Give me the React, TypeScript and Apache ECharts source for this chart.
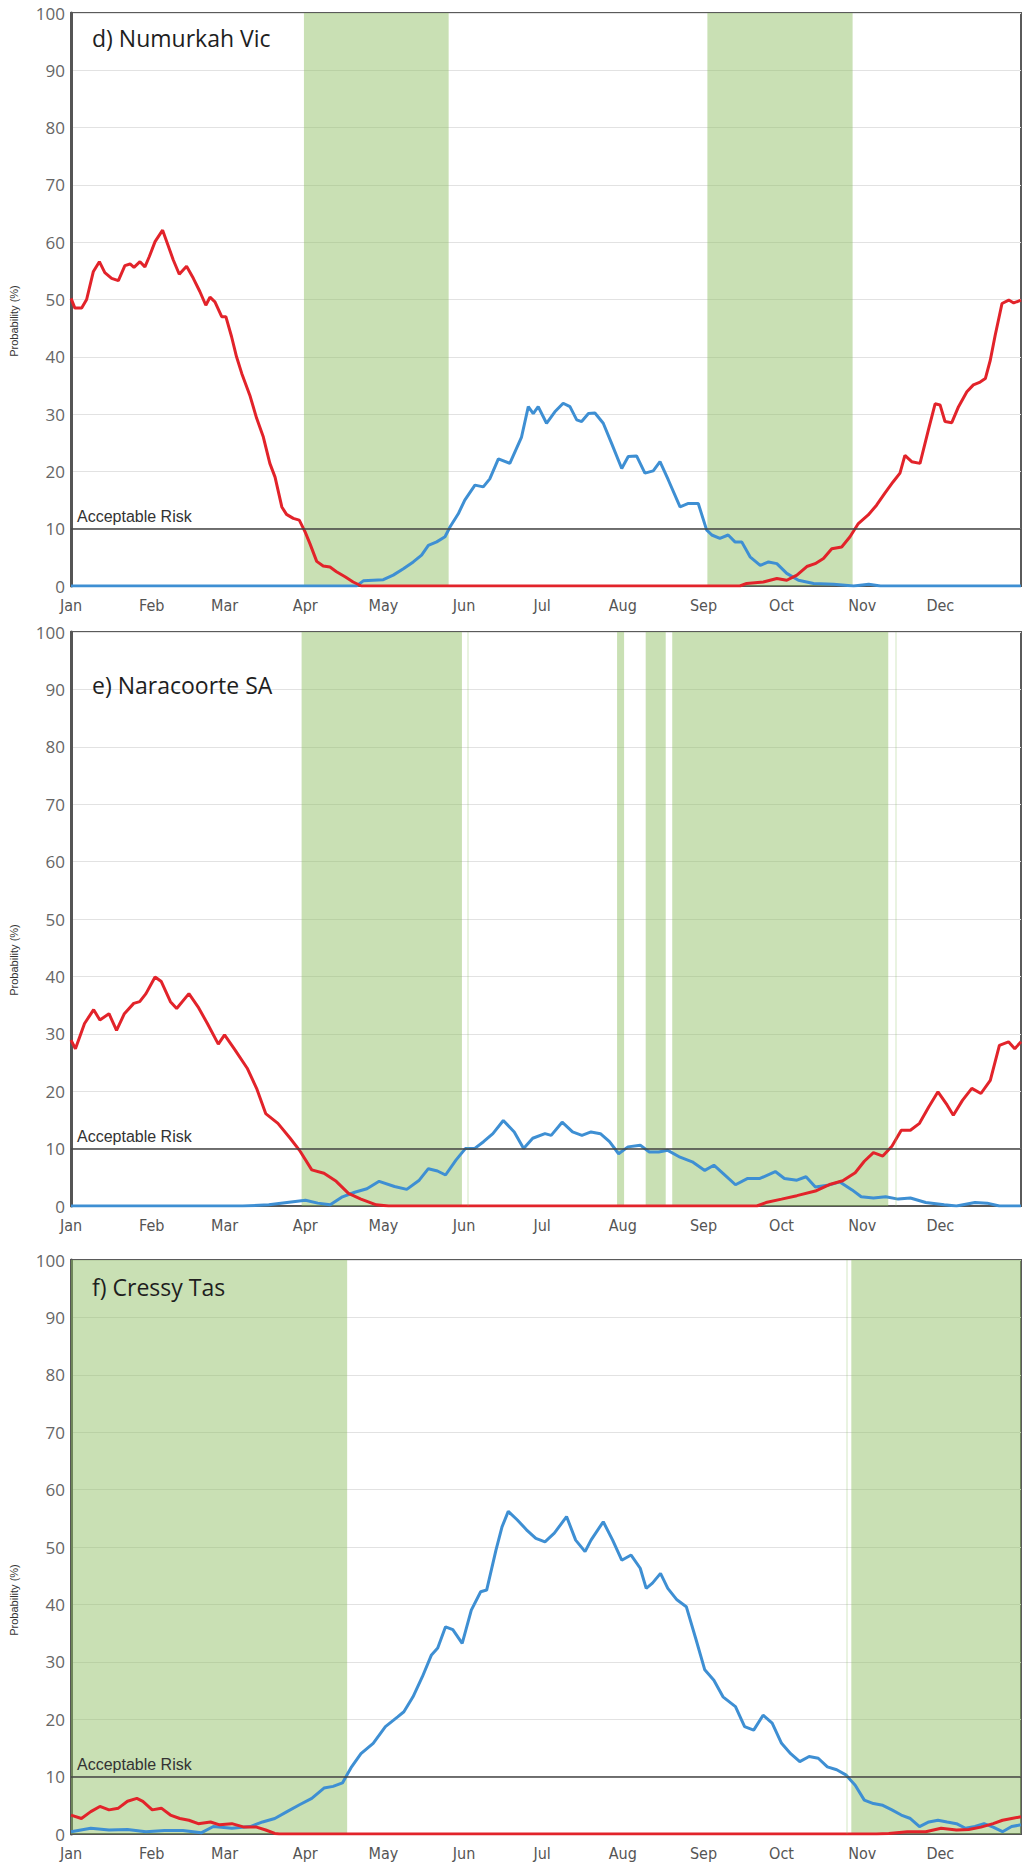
import React, { useEffect, useRef } from "react";
import * as echarts from "echarts";

const monthNames = ["Jan", "Feb", "Mar", "Apr", "May", "Jun", "Jul", "Aug", "Sep", "Oct", "Nov", "Dec"];
const monthStarts = [0, 31, 59, 90, 120, 151, 181, 212, 243, 273, 304, 334];
const panelTitles = ["d) Numurkah Vic", "e) Naracoorte SA", "f) Cressy Tas"];
const riskLevel = 10;
const riskLabel = "Acceptable Risk";
const yName = "Probability (%)";

// [day of year, probability %]
const dRed = [[0,50.2],[1.5,48.5],[4.1,48.5],[6,50],[8.6,54.9],[10.9,56.6],[13,54.7],[15.6,53.7],[18.2,53.3],[20.7,55.9],[22.7,56.2],[24.2,55.6],[26.5,56.6],[28.4,55.7],[30.1,57.5],[32.3,60.1],[35.2,62.1],[37,59.8],[39.3,56.9],[41.6,54.4],[44.4,55.8],[47,53.7],[49.5,51.4],[51.8,49],[53.4,50.4],[55.3,49.6],[57.9,47],[59.5,47],[61.7,43.5],[63.6,40],[65.6,37.1],[68.7,33.3],[71.3,29.3],[73.9,26],[76.4,21.4],[78.4,19],[81,13.8],[82.8,12.5],[85.4,11.8],[87.7,11.5],[89.9,9.5],[91.8,7.4],[94.4,4.3],[96.9,3.5],[99.5,3.3],[102,2.5],[105.3,1.6],[108.4,0.7],[111.6,0],[257,0],[259.6,0.45],[266,0.7],[271.2,1.3],[275,1.0],[278.9,1.9],[282.7,3.4],[285.9,3.9],[289.1,4.8],[292.3,6.5],[296.1,6.8],[299.3,8.6],[302.5,10.9],[306.3,12.4],[309.5,14.1],[312.7,16.2],[315.9,18.2],[318.5,19.7],[320.4,22.8],[323,21.7],[326.2,21.4],[329.4,27.2],[332,31.8],[333.9,31.6],[335.8,28.7],[338.4,28.5],[341,31.3],[344.2,33.9],[346.7,35.1],[349.3,35.6],[351.3,36.2],[353.2,39.4],[355.1,43.8],[357.7,49.3],[360.3,49.9],[362.2,49.4],[365,49.9]];
const dBlue = [[0,0],[109.7,0],[112.3,0.9],[116.1,1],[120,1.1],[123.8,1.9],[127.7,3],[131.5,4.2],[134.7,5.4],[137.3,7.1],[140.5,7.7],[143.7,8.6],[145.6,10.3],[148.8,12.6],[151.3,15],[155.2,17.6],[158.4,17.3],[160.9,18.7],[164.2,22.2],[168.6,21.4],[173.1,26],[175.7,31.3],[177.6,30.1],[179.5,31.3],[182.7,28.4],[185.9,30.4],[189.1,31.9],[191.7,31.3],[194.3,29],[196.2,28.7],[198.8,30.1],[201.3,30.2],[204.5,28.4],[207.7,24.9],[211.6,20.5],[214.1,22.6],[217.3,22.7],[220.5,19.7],[223.7,20.1],[226.3,21.7],[229.5,18.5],[234,13.8],[237.2,14.4],[241,14.4],[244.2,9.8],[246.2,8.9],[249.3,8.3],[252.5,8.9],[255.1,7.7],[257.7,7.7],[260.9,5.1],[264.8,3.6],[268,4.2],[271.2,3.9],[275,2.2],[279.5,1.0],[285.3,0.45],[293,0.3],[300.7,0],[306.5,0.3],[311,0],[365,0]];

const eRed = [[0,28.9],[1.7,27.4],[5.2,31.8],[8.7,34.2],[11.1,32.4],[14.6,33.5],[17.5,30.6],[20.5,33.5],[24.1,35.3],[26.4,35.6],[28.8,37],[32.3,39.9],[34.7,39.1],[38.2,35.6],[40.6,34.4],[45.3,37],[48.8,34.7],[52.4,31.8],[56.6,28.2],[59,29.8],[63,27.2],[67.7,24],[71.3,20.5],[74.8,16.1],[79.5,14.4],[84.2,11.8],[87.8,9.7],[92.5,6.3],[97.2,5.7],[101.9,4.3],[106.6,2.2],[111.4,1.2],[117.3,0.2],[122,0],[263.5,0],[267,0.6],[273,1.2],[278.9,1.8],[286,2.6],[291.8,3.8],[296.5,4.4],[301.3,5.8],[304.8,7.8],[308.3,9.3],[311.9,8.7],[315.4,10.4],[319,13.2],[322.5,13.2],[326,14.4],[329.6,17.3],[333.1,19.9],[336.6,17.6],[339,15.8],[342.5,18.4],[346.1,20.5],[349.6,19.6],[353.2,21.9],[356.7,28],[360.2,28.6],[362.6,27.4],[365,28.6]];
const eBlue = [[0,0],[66,0],[76,0.2],[83,0.6],[90.1,1],[94.8,0.5],[99.6,0.2],[104.3,1.6],[109,2.4],[113.7,3],[118.4,4.3],[124.3,3.4],[129,2.9],[133.8,4.5],[137.3,6.5],[140.8,6.1],[143.9,5.4],[147.9,8],[151.5,10],[155,10],[158.5,11.2],[162.1,12.6],[166.1,14.9],[170.3,12.9],[173.9,10],[177.4,11.8],[182.1,12.6],[184.5,12.3],[188.7,14.6],[192.7,12.9],[196.3,12.3],[199.8,12.9],[203.4,12.6],[206.9,11.2],[210.4,9.1],[214,10.3],[218.7,10.6],[222.2,9.4],[225.8,9.4],[229.3,9.7],[234,8.5],[238.7,7.7],[243.5,6.2],[247,7.1],[250.5,5.7],[255.3,3.7],[260,4.8],[264.7,4.8],[270.6,6],[274.1,4.8],[278.9,4.5],[282.4,5.1],[286,3.3],[290.7,3.6],[295.4,4.2],[300.1,2.8],[303.6,1.6],[308.3,1.4],[313,1.6],[317.8,1.2],[322.5,1.4],[328.4,0.6],[335.5,0.2],[340.2,0],[347.3,0.6],[352,0.5],[356.7,0],[365,0]];

const fRed = [[0,3.3],[4,2.7],[7.6,3.9],[11.1,4.8],[14.6,4.2],[18.2,4.5],[21.7,5.7],[25.3,6.2],[27.6,5.7],[31.2,4.2],[34.7,4.5],[38.2,3.3],[41.8,2.7],[45.3,2.4],[48.9,1.8],[53.6,2.1],[57.1,1.6],[61.8,1.8],[66.5,1.2],[71.3,1.2],[74.8,0.7],[78.3,0.1],[80,0],[309.5,0],[314.2,0.1],[321.3,0.4],[328.4,0.4],[334.3,1],[340.2,0.7],[344.9,0.8],[349.6,1.2],[354.3,1.8],[357.9,2.4],[361.4,2.7],[365,3]];
const fBlue = [[0,0.4],[7.6,1],[14.6,0.7],[21.7,0.8],[28.8,0.4],[35.9,0.6],[43,0.6],[50,0.2],[54.7,1.3],[61.8,1],[68.9,1.3],[73.6,2.1],[78.3,2.7],[83,3.9],[87.8,5.1],[92.5,6.2],[97.2,8],[100.7,8.3],[104.3,8.9],[107.8,11.7],[111.4,14],[116.1,15.8],[120.8,18.7],[125.5,20.4],[127.9,21.3],[131.4,23.9],[135,27.4],[138.5,31.2],[140.9,32.4],[143.9,36.1],[146.7,35.6],[150.3,33.2],[153.8,39],[157.4,42.2],[159.7,42.5],[163.3,49.5],[165.6,53.5],[168,56.2],[171.5,54.7],[175,53],[178.6,51.5],[182.1,50.9],[185.7,52.4],[190.4,55.3],[193.9,51.2],[197.5,49.2],[199.8,51.2],[204.5,54.4],[208.1,51.2],[211.6,47.7],[215.2,48.6],[218.7,46.3],[221,42.8],[223.4,43.7],[226.5,45.4],[229.3,42.8],[232.8,40.8],[236.4,39.6],[240,34.1],[243.5,28.6],[247,26.8],[250.5,23.9],[255.3,22.2],[258.8,18.7],[262.3,18.1],[265.9,20.7],[269.4,19.3],[273,15.8],[276.5,14],[280,12.6],[283.6,13.5],[287.1,13.2],[290.6,11.7],[294.2,11.2],[297.7,10.3],[301.3,8.5],[304.8,5.9],[308.3,5.3],[311.9,5],[315.4,4.2],[319,3.3],[322.5,2.7],[326,1.3],[329.6,2.1],[333.1,2.4],[336.6,2.1],[340.2,1.8],[343.7,1],[347.3,1.3],[350.8,1.8],[354.3,1.2],[357.9,0.4],[361.4,1.3],[365,1.6]];

// green "favourable" periods [startDay, endDay]
const dBands = [[89.5, 145.1], [244.5, 300.3]];
const eBands = [[88.6, 150.2], [209.8, 212.5], [220.8, 228.5], [231, 314]];
const fBands = [[0, 106.1], [299.8, 365]];
const dThin: number[] = [];
const eThin = [152.3, 316.8];
const fThin = [298];

const redSeries = [dRed, eRed, fRed];
const blueSeries = [dBlue, eBlue, fBlue];
const bandSets = [dBands, eBands, fBands];
const thinSets = [dThin, eThin, fThin];

const RED = "#e2232a";
const BLUE = "#3e8fd3";
const GREEN = "rgba(140,190,95,0.47)";

export default function App() {
  const ref = useRef<HTMLDivElement>(null);
  useEffect(() => {
    if (!ref.current) return;
    const chart = echarts.init(ref.current, undefined, { renderer: "svg" });
    const gridPos = [
      { top: 13, height: 573 },
      { top: 632, height: 574 },
      { top: 1260, height: 574 },
    ];
    const titlePos = [38, 685, 1287];
    const namePos = [321, 960, 1600];
    const grid = gridPos.map((g) => ({
      left: 71,
      right: 2,
      top: g.top,
      height: g.height,
      show: true,
      borderColor: "#5a5a5a",
      borderWidth: 2,
      backgroundColor: "#fff",
    }));
    const xAxis = gridPos.map((_, i) => ({
      type: "value",
      gridIndex: i,
      min: 0,
      max: 365,
      axisLine: { show: true, lineStyle: { color: "#555", width: 2 } },
      axisTick: { show: false },
      splitLine: { show: false },
      axisLabel: {
        customValues: monthStarts,
        formatter: (v: number) => monthNames[monthStarts.indexOf(v)] ?? "",
        fontSize: 16,
        color: "#555",
        margin: 11,
        fontFamily: '"Liberation Sans Narrow", "DejaVu Sans Condensed", "Liberation Sans", sans-serif',
      },
    }));
    const yAxis = gridPos.map((_, i) => ({
      type: "value",
      gridIndex: i,
      min: 0,
      max: 100,
      interval: 10,
      axisLine: { show: true, lineStyle: { color: "#555", width: 3 } },
      axisTick: { show: false },
      axisLabel: { fontSize: 17, color: "#666", margin: 6, fontFamily: '"Open Sans", sans-serif' },
      splitLine: { show: true, lineStyle: { color: "#e2e2e2", width: 1 } },
    }));
    const series: any[] = [];
    for (let i = 0; i < 3; i++) {
      series.push({
        type: "line",
        xAxisIndex: i,
        yAxisIndex: i,
        data: [],
        z: 1,
        silent: true,
        markArea: {
          silent: true,
          itemStyle: { color: GREEN },
          data: bandSets[i].map(([a, b]) => [{ xAxis: a }, { xAxis: b }]),
        },
        markLine: {
          silent: true,
          symbol: "none",
          label: { show: false },
          lineStyle: { color: "rgba(140,190,95,0.25)", width: 1.5, type: "solid" },
          data: thinSets[i].map((x) => ({ xAxis: x })),
        },
      });
      series.push({
        type: "line",
        xAxisIndex: i,
        yAxisIndex: i,
        data: [],
        z: 2,
        silent: true,
        markLine: {
          silent: true,
          symbol: "none",
          lineStyle: { color: "#444", width: 1.5, type: "solid" },
          label: {
            show: true,
            position: "insideStartTop",
            formatter: riskLabel,
            fontSize: 16,
            color: "#333",
            distance: [6, 4],
            fontFamily: '"Liberation Sans", Arial, sans-serif',
          },
          data: [{ yAxis: riskLevel }],
        },
      });
      series.push({
        type: "line",
        xAxisIndex: i,
        yAxisIndex: i,
        data: blueSeries[i],
        showSymbol: false,
        z: 3,
        lineStyle: { color: BLUE, width: 3 },
        itemStyle: { color: BLUE },
      });
      series.push({
        type: "line",
        xAxisIndex: i,
        yAxisIndex: i,
        data: redSeries[i],
        showSymbol: false,
        z: 4,
        lineStyle: { color: RED, width: 3 },
        itemStyle: { color: RED },
      });
    }
    const graphic: any[] = [];
    for (let i = 0; i < 3; i++) {
      graphic.push({
        type: "text",
        x: 92,
        y: titlePos[i],
        z: 10,
        style: {
          text: panelTitles[i],
          fontSize: 23,
          fontFamily: '"Open Sans", sans-serif',
          fill: "#1e1e1e",
          verticalAlign: "middle",
        },
      });
      graphic.push({
        type: "text",
        x: 14,
        y: namePos[i],
        rotation: Math.PI / 2,
        style: {
          text: yName,
          fontSize: 11,
          fontFamily: '"Liberation Sans", Arial, sans-serif',
          fill: "#333",
          align: "center",
          verticalAlign: "middle",
        },
      });
    }
    chart.setOption({
      animation: false,
      backgroundColor: "#fff",
      grid,
      xAxis,
      yAxis,
      series,
      graphic,
    });
    return () => chart.dispose();
  }, []);
  return (
    <div
      ref={ref}
      style={{ position: "absolute", left: 0, top: 0, width: 1023, height: 1863, background: "#fff" }}
    />
  );
}
